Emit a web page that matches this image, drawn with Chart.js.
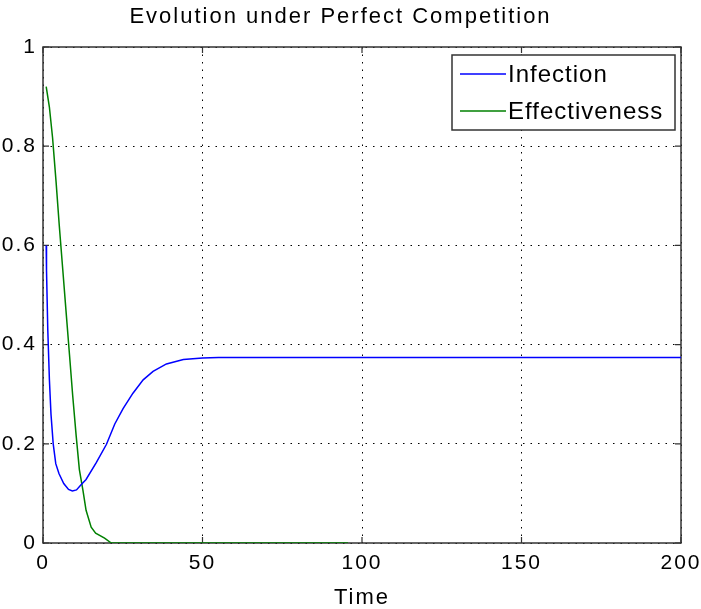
<!DOCTYPE html>
<html>
<head>
<meta charset="utf-8">
<script src="https://cdn.jsdelivr.net/npm/chart.js@4/dist/chart.umd.min.js"></script>
<style>
  html, body { margin: 0; padding: 0; background: #fff; }
  canvas { display: block; }
</style>
</head>
<body>
<canvas id="chart" width="701" height="609"></canvas>
<script>
// Series (time, value)
const infectionTime = [1, 1.1, 1.5, 2.0, 2.5, 3.2, 4.0, 5.0, 6.5, 8.0, 9.2, 10.5, 12.0, 13.5, 16.7, 19.9, 22.5, 25.1, 28.2, 31.4, 34.5, 38.7, 44, 50, 55, 70, 100, 150, 200];
const infectionValues = [0.60, 0.55, 0.43, 0.33, 0.26, 0.20, 0.16, 0.14, 0.12, 0.108, 0.105, 0.107, 0.118, 0.128, 0.162, 0.199, 0.240, 0.271, 0.302, 0.329, 0.346, 0.361, 0.370, 0.373, 0.374, 0.374, 0.374, 0.374, 0.374];

const effectivenessTime = [1, 2, 3, 4.1, 5.1, 6.2, 7.2, 8.3, 9.3, 10.4, 11.4, 12.5, 13.5, 15.1, 16.5, 19.3, 21.4, 95.6];
const effectivenessValues = [0.92, 0.879, 0.817, 0.728, 0.640, 0.551, 0.469, 0.380, 0.298, 0.216, 0.148, 0.107, 0.066, 0.032, 0.02, 0.01, 0, 0];

const xTicks = [0, 50, 100, 150, 200];
const yTicks = [0, 0.2, 0.4, 0.6, 0.8, 1];
const seriesLabels = ['Infection', 'Effectiveness'];
const seriesColors = ['#0000ff', '#008000'];

const FONT = "'Liberation Sans', Arial, sans-serif";

const toPoints = (xs, ys) => xs.map((x, i) => ({ x: x, y: ys[i] }));

// letter spacing to mimic the wide MATLAB text
const spacingPlugin = {
    id: 'spacing',
    beforeLayout(chart) { chart.ctx.letterSpacing = '2px'; },
    beforeDraw(chart) { chart.ctx.letterSpacing = '2px'; }
};

// axes box, inward tick marks and the boxed legend
const boxPlugin = {
    id: 'box',
    beforeDatasetsDraw(chart) {
        const ctx = chart.ctx;
        const a = chart.chartArea;
        const xs = chart.scales.x, ys = chart.scales.y;
        ctx.save();
        ctx.strokeStyle = '#333';
        ctx.lineWidth = 1.5;
        ctx.setLineDash([]);
        ctx.strokeRect(a.left, a.top, a.right - a.left, a.bottom - a.top);
        ctx.lineWidth = 1.2;
        ctx.beginPath();
        xTicks.forEach(v => {
            const px = xs.getPixelForValue(v);
            ctx.moveTo(px, a.bottom); ctx.lineTo(px, a.bottom - 6);
            ctx.moveTo(px, a.top); ctx.lineTo(px, a.top + 6);
        });
        yTicks.forEach(v => {
            const py = ys.getPixelForValue(v);
            ctx.moveTo(a.left, py); ctx.lineTo(a.left + 6, py);
            ctx.moveTo(a.right, py); ctx.lineTo(a.right - 6, py);
        });
        ctx.stroke();
        ctx.restore();
    },
    afterDatasetsDraw(chart) {
        const ctx = chart.ctx;
        const bx = 452, by = 55, bw = 223, bh = 75;
        ctx.save();
        ctx.fillStyle = '#fff';
        ctx.fillRect(bx, by, bw, bh);
        ctx.strokeStyle = '#333';
        ctx.lineWidth = 1.5;
        ctx.strokeRect(bx, by, bw, bh);
        ctx.letterSpacing = '1px';
        ctx.font = '24px ' + FONT;
        ctx.textBaseline = 'middle';
        ctx.textAlign = 'left';
        chart.data.datasets.forEach((ds, i) => {
            const y = 74 + i * 37;
            ctx.strokeStyle = ds.borderColor;
            ctx.lineWidth = 1.5;
            ctx.beginPath();
            ctx.moveTo(460, y); ctx.lineTo(506, y);
            ctx.stroke();
            ctx.fillStyle = '#000';
            ctx.fillText(ds.label, 508, y + 1);
        });
        ctx.restore();
    }
};

new Chart(document.getElementById('chart'), {
    type: 'line',
    data: {
        datasets: [
            {
                label: seriesLabels[0],
                data: toPoints(infectionTime, infectionValues),
                borderColor: seriesColors[0],
                borderWidth: 1.5,
                pointRadius: 0,
                tension: 0,
                fill: false
            },
            {
                label: seriesLabels[1],
                data: toPoints(effectivenessTime, effectivenessValues),
                borderColor: seriesColors[1],
                borderWidth: 1.5,
                pointRadius: 0,
                tension: 0,
                fill: false
            }
        ]
    },
    options: {
        responsive: false,
        animation: false,
        events: [],
        layout: { padding: { left: 0, right: 20, top: 0, bottom: 0 } },
        plugins: {
            legend: { display: false },
            tooltip: { enabled: false },
            title: {
                display: true,
                text: 'Evolution under Perfect Competition',
                color: '#000',
                font: { family: FONT, size: 22, weight: 'normal', lineHeight: 1.2 },
                padding: { top: 4, bottom: 16.6 }
            }
        },
        scales: {
            x: {
                type: 'linear',
                min: 0,
                max: 200,
                afterBuildTicks: s => { s.ticks = xTicks.map(v => ({ value: v })); },
                afterFit: s => { s.height = 66; s.paddingLeft = 0; s.paddingRight = 0; },
                grid: { color: '#000', lineWidth: 1, drawTicks: false },
                border: { display: false, dash: [1.5, 6] },
                ticks: {
                    color: '#000',
                    padding: 8,
                    maxRotation: 0,
                    font: { family: FONT, size: 21 }
                },
                title: {
                    display: true,
                    text: 'Time',
                    color: '#000',
                    font: { family: FONT, size: 22, lineHeight: 1 },
                    padding: { top: 0, bottom: 0 }
                }
            },
            y: {
                type: 'linear',
                min: 0,
                max: 1,
                afterBuildTicks: s => { s.ticks = yTicks.map(v => ({ value: v })); },
                afterFit: s => { s.width = 43; },
                grid: { color: '#000', lineWidth: 1, drawTicks: false },
                border: { display: false, dash: [1.5, 6] },
                ticks: {
                    color: '#000',
                    padding: 6,
                    font: { family: FONT, size: 21 },
                    callback: v => String(Math.round(v * 10) / 10)
                }
            }
        }
    },
    plugins: [spacingPlugin, boxPlugin]
});
</script>
</body>
</html>
